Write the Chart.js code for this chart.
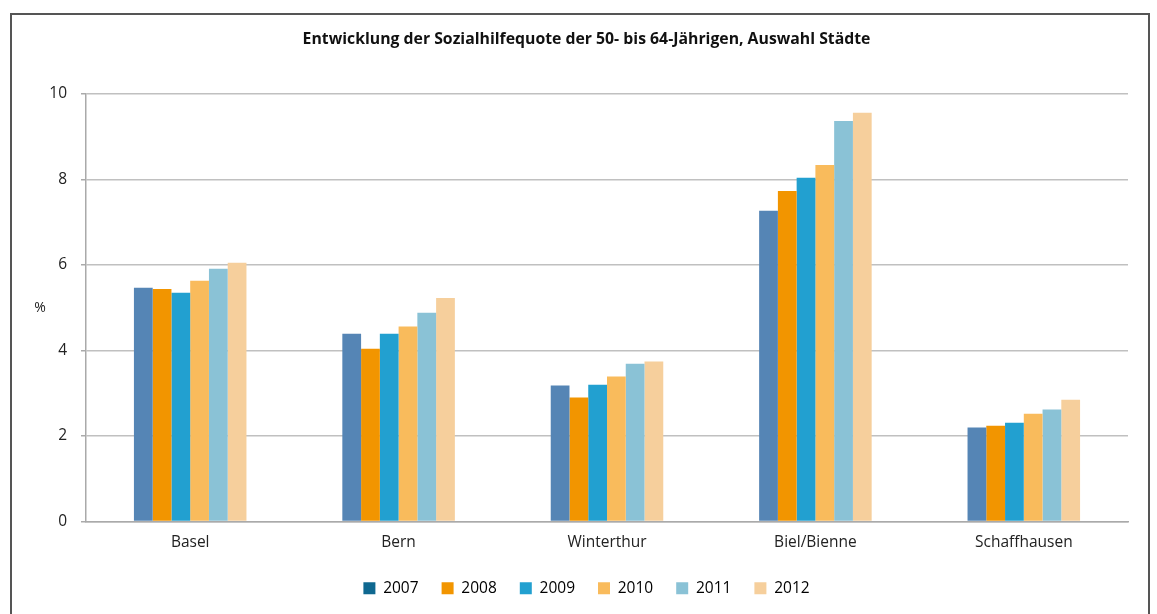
<!DOCTYPE html>
<html>
<head>
<meta charset="utf-8">
<script src="https://cdn.jsdelivr.net/npm/chart.js@4"></script>
<style>
  html, body { margin: 0; padding: 0; background: #fff; }
  #wrap { position: relative; width: 1157px; height: 614px; overflow: hidden; }
  #frame { position: absolute; left: 10px; top: 13px; width: 1140px; height: 700px; border: 2px solid #555; box-sizing: border-box; }
  canvas { position: absolute; left: 0; top: 0; }
</style>
</head>
<body>
<div id="wrap">
  <div id="frame"></div>
  <canvas id="barChart" width="1157" height="614"></canvas>
</div>
<script>
// Daten
var staedte = ["Basel", "Bern", "Winterthur", "Biel/Bienne", "Schaffhausen"];
var jahre = ["2007", "2008", "2009", "2010", "2011", "2012"];
var werte2007 = [5.47, 4.39, 3.18, 7.27, 2.20];
var werte2008 = [5.44, 4.04, 2.90, 7.73, 2.24];
var werte2009 = [5.35, 4.39, 3.20, 8.04, 2.31];
var werte2010 = [5.63, 4.56, 3.39, 8.34, 2.52];
var werte2011 = [5.91, 4.88, 3.69, 9.37, 2.62];
var werte2012 = [6.05, 5.23, 3.74, 9.56, 2.85];
var yTicks = [0, 2, 4, 6, 8, 10];

var barColors = ["#5585b5", "#f29500", "#22a0d0", "#f9bb5c", "#8ac2d6", "#f6cf9c"];
var legendColors = ["#0f6890", "#f29500", "#22a0d0", "#f9bb5c", "#8ac2d6", "#f6cf9c"];
var alleWerte = [werte2007, werte2008, werte2009, werte2010, werte2011, werte2012];

var font = "'Open Sans', 'Noto Sans', sans-serif";

var datasets = jahre.map(function (j, i) {
  return {
    label: j,
    data: alleWerte[i],
    backgroundColor: barColors[i],
    borderWidth: 0,
    categoryPercentage: 0.54,
    barPercentage: 1.0
  };
});

// "%" neben der Y-Achse
var prozentLabel = {
  id: "prozentLabel",
  afterDraw: function (chart) {
    var ctx = chart.ctx;
    ctx.save();
    ctx.fillStyle = "#222";
    ctx.font = "14px " + font;
    ctx.textAlign = "center";
    ctx.textBaseline = "middle";
    ctx.fillText("%", 40, chart.scales.y.getPixelForValue(5.0));
    ctx.restore();
  }
};

var ctx = document.getElementById("barChart").getContext("2d");
var myBarChart = new Chart(ctx, {
  type: "bar",
  data: { labels: staedte, datasets: datasets },
  options: {
    responsive: false,
    animation: false,
    layout: { padding: { left: 45, right: 29, top: 0, bottom: 8 } },
    plugins: {
      title: {
        display: true,
        text: "Entwicklung der Sozialhilfequote der 50- bis 64-Jährigen, Auswahl Städte",
        color: "#111",
        font: { family: font, size: 15.8, weight: "bold" },
        padding: { top: 30, bottom: 45 }
      },
      legend: {
        position: "bottom",
        labels: {
          color: "#222",
          font: { family: font, size: 15.5 },
          boxWidth: 12,
          boxHeight: 12,
          padding: 23,
          generateLabels: function (chart) {
            return jahre.map(function (j, i) {
              return { text: j, fillStyle: legendColors[i], strokeStyle: legendColors[i], lineWidth: 0, datasetIndex: i };
            });
          }
        }
      },
      tooltip: { enabled: false }
    },
    scales: {
      x: {
        grid: { display: false },
        border: { color: "#aaa", width: 1.5 },
        ticks: { color: "#222", font: { family: font, size: 15.5 }, padding: 4 },
        afterFit: function (scale) { scale.height = 36; }
      },
      y: {
        min: 0,
        max: 10,
        afterBuildTicks: function (scale) {
          scale.ticks = yTicks.map(function (v) { return { value: v }; });
        },
        grid: { color: "#c0c0c0", lineWidth: 1.5, tickLength: 5, tickColor: "#aaa" },
        border: { color: "#aaa", width: 1.5 },
        ticks: { color: "#222", font: { family: font, size: 15.5 }, padding: 14 },
        afterFit: function (scale) { scale.width = 41; }
      }
    }
  },
  plugins: [prozentLabel]
});
</script>
</body>
</html>
